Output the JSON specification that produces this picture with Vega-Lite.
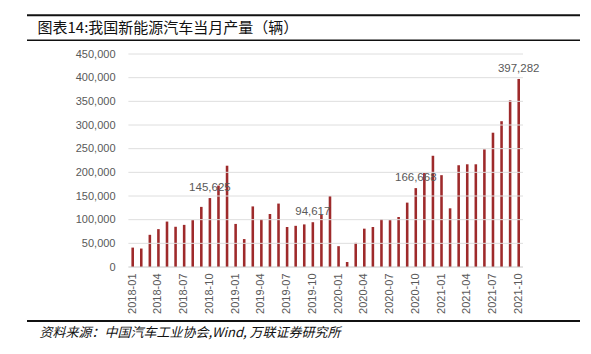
{
  "$schema": "https://vega.github.io/schema/vega-lite/v6.json",
  "autosize": "none",
  "width": 553,
  "height": 213,
  "padding": {"left": 27, "top": 54, "right": 11, "bottom": 87},
  "background": "white",
  "config": {
    "view": {"stroke": null},
    "axis": {"labelFont": "Liberation Sans", "titleFont": "Noto Sans CJK SC"}
  },
  "resolve": {"axis": {"x": "independent", "y": "independent"}},
  "datasets": {
    "prod": [
      {"month": "2018-01", "value": 41000},
      {"month": "2018-02", "value": 39000},
      {"month": "2018-03", "value": 68000},
      {"month": "2018-04", "value": 80000},
      {"month": "2018-05", "value": 96000},
      {"month": "2018-06", "value": 85000},
      {"month": "2018-07", "value": 89000},
      {"month": "2018-08", "value": 99000},
      {"month": "2018-09", "value": 127000},
      {"month": "2018-10", "value": 145625},
      {"month": "2018-11", "value": 172000},
      {"month": "2018-12", "value": 214000},
      {"month": "2019-01", "value": 91000},
      {"month": "2019-02", "value": 59000},
      {"month": "2019-03", "value": 128000},
      {"month": "2019-04", "value": 101000},
      {"month": "2019-05", "value": 112000},
      {"month": "2019-06", "value": 134000},
      {"month": "2019-07", "value": 84500},
      {"month": "2019-08", "value": 87000},
      {"month": "2019-09", "value": 90000},
      {"month": "2019-10", "value": 94617},
      {"month": "2019-11", "value": 110000},
      {"month": "2019-12", "value": 150000},
      {"month": "2020-01", "value": 44000},
      {"month": "2020-02", "value": 10600},
      {"month": "2020-03", "value": 51000},
      {"month": "2020-04", "value": 81000},
      {"month": "2020-05", "value": 84500},
      {"month": "2020-06", "value": 101000},
      {"month": "2020-07", "value": 99000},
      {"month": "2020-08", "value": 105600},
      {"month": "2020-09", "value": 136000},
      {"month": "2020-10", "value": 166668},
      {"month": "2020-11", "value": 198500},
      {"month": "2020-12", "value": 235000},
      {"month": "2021-01", "value": 194000},
      {"month": "2021-02", "value": 124000},
      {"month": "2021-03", "value": 215000},
      {"month": "2021-04", "value": 217000},
      {"month": "2021-05", "value": 217000},
      {"month": "2021-06", "value": 248500},
      {"month": "2021-07", "value": 283700},
      {"month": "2021-08", "value": 308000},
      {"month": "2021-09", "value": 352000},
      {"month": "2021-10", "value": 397282}
    ],
    "grid": [
      {"g": 0}, {"g": 50000}, {"g": 100000}, {"g": 150000}, {"g": 200000},
      {"g": 250000}, {"g": 300000}, {"g": 350000}, {"g": 400000}, {"g": 450000}
    ],
    "one": [{}]
  },
  "layer": [
    {
      "data": {"name": "prod"},
      "mark": {"type": "bar", "color": "#9e2a2b"},
      "encoding": {
        "x": {
          "field": "month",
          "type": "nominal",
          "sort": null,
          "scale": {
            "domain": ["2018-01","2018-02","2018-03","2018-04","2018-05","2018-06","2018-07","2018-08","2018-09","2018-10","2018-11","2018-12","2019-01","2019-02","2019-03","2019-04","2019-05","2019-06","2019-07","2019-08","2019-09","2019-10","2019-11","2019-12","2020-01","2020-02","2020-03","2020-04","2020-05","2020-06","2020-07","2020-08","2020-09","2020-10","2020-11","2020-12","2021-01","2021-02","2021-03","2021-04","2021-05","2021-06","2021-07","2021-08","2021-09","2021-10"],
            "range": [101.4, 496],
            "paddingInner": 0.7, "paddingOuter": 0.35, "align": 0.5
          },
          "axis": {
            "orient": "bottom",
            "values": ["2018-01","2018-04","2018-07","2018-10","2019-01","2019-04","2019-07","2019-10","2020-01","2020-04","2020-07","2020-10","2021-01","2021-04","2021-07","2021-10"],
            "labelAngle": -90,
            "labelFontSize": 11,
            "labelColor": "#595959",
            "labelPadding": 6,
            "ticks": false,
            "domain": false,
            "grid": false,
            "title": "资料来源：中国汽车工业协会,Wind, 万联证券研究所",
            "titleFontStyle": "italic",
            "titleFontWeight": "normal",
            "titleFontSize": 13,
            "titleColor": "#111111",
            "titleAlign": "left",
            "titleAnchor": "start",
            "titleBaseline": "middle",
            "titleX": 12,
            "titleY": 65
          }
        },
        "y": {
          "field": "value",
          "type": "quantitative",
          "scale": {"domain": [0, 450000], "nice": false, "zero": false},
          "axis": {
            "orient": "left",
            "values": [0, 50000, 100000, 150000, 200000, 250000, 300000, 350000, 400000, 450000],
            "format": ",.0f",
            "offset": -88,
            "labelPadding": 0,
            "labelFontSize": 11,
            "labelColor": "#595959",
            "ticks": false,
            "domain": false,
            "grid": false,
            "title": "图表14:我国新能源汽车当月产量（辆）",
            "titleAngle": 0,
            "titleAlign": "left",
            "titleBaseline": "middle",
            "titleX": -78,
            "titleY": -26.5,
            "titleFontSize": 15,
            "titleFontWeight": "normal",
            "titleColor": "#111111"
          }
        }
      }
    },
    {
      "data": {"name": "grid"},
      "mark": {"type": "rule", "strokeWidth": 1},
      "encoding": {
        "x": {"datum": "2018-01", "type": "nominal", "bandPosition": -1.17, "axis": null},
        "x2": {"datum": "2021-10", "bandPosition": 2.17},
        "y": {"field": "g", "type": "quantitative", "axis": null},
        "color": {"condition": {"test": "datum.g === 0", "value": "#c8c8c8"}, "value": "#dedede"}
      }
    },
    {
      "data": {"name": "prod"},
      "transform": [{"filter": {"field": "month", "oneOf": ["2018-10", "2019-10", "2020-10", "2021-10"]}}],
      "mark": {"type": "text", "baseline": "alphabetic", "dy": -7, "font": "Liberation Sans", "fontSize": 11.5, "color": "#595959"},
      "encoding": {
        "x": {"field": "month", "type": "nominal", "sort": null, "axis": null},
        "y": {"field": "value", "type": "quantitative", "axis": null},
        "text": {"field": "value", "type": "quantitative", "format": ",.0f"}
      }
    },
    {
      "data": {"name": "one"},
      "mark": {"type": "rule", "color": "#111111", "strokeWidth": 2},
      "encoding": {"y": {"datum": 532000, "type": "quantitative", "axis": null}}
    },
    {
      "data": {"name": "one"},
      "mark": {"type": "rule", "color": "#111111", "strokeWidth": 1.5},
      "encoding": {"y": {"datum": 479150, "type": "quantitative", "axis": null}}
    },
    {
      "data": {"name": "one"},
      "mark": {"type": "rule", "color": "#111111", "strokeWidth": 2},
      "encoding": {"y": {"datum": -114085, "type": "quantitative", "axis": null}}
    }
  ]
}
